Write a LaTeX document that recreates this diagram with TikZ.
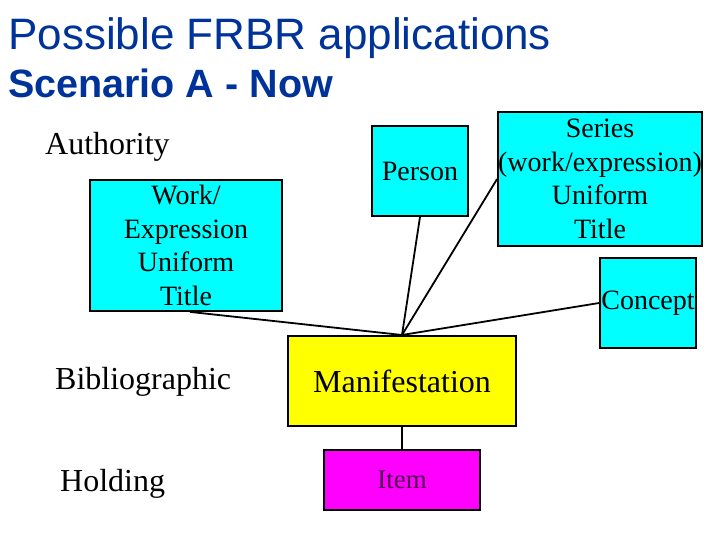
\documentclass[tikz,border=0pt]{standalone}
\usepackage{fontspec}
\setmainfont{Liberation Serif}
\newfontfamily\arialfont{Liberation Sans}
\definecolor{titleblue}{RGB}{0,51,153}
\definecolor{cyanfill}{RGB}{0,255,255}
\definecolor{yellowfill}{RGB}{255,255,0}
\definecolor{magentafill}{RGB}{255,0,255}
\definecolor{itemtext}{RGB}{80,0,80}
\tikzset{
  box/.style={draw=black, line width=1.8pt, inner sep=0pt, align=center},
  authbox/.style={box, fill=cyanfill, font=\fontsize{28}{33.6}\selectfont},
  biglabel/.style={inner sep=0pt, font=\fontsize{32}{38}\selectfont},
  link/.style={draw=black, line width=1.8pt},
}
\begin{document}
\begin{tikzpicture}[x=1pt,y=-1pt]
\useasboundingbox (0,0) rectangle (720,540);
% titles
\node[anchor=base west, inner sep=0pt, text=titleblue, font=\arialfont\fontsize{44}{50}\selectfont] (t1) at (8,50) {Possible FRBR applications};
\node[anchor=base west, inner sep=0pt, text=titleblue, font=\arialfont\bfseries\fontsize{39.5}{46}\selectfont] (t2) at (8,98) {Scenario A - Now};
% labels
\node[biglabel, anchor=base west] (auth) at (45,155) {Authority};
\node[biglabel, anchor=base west] (bib) at (55,389) {Bibliographic};
\node[biglabel, anchor=base west] (hold) at (60,491) {Holding};
% authority boxes
\node[authbox, minimum width=192, minimum height=131] (work) at (186,245.5) {Work/\\Expression\\Uniform\\Title};
\node[authbox, minimum width=96, minimum height=90] (person) at (420,171) {Person};
\node[authbox, minimum width=204, minimum height=134] (series) at (600,179) {Series\\(work/expression)\\Uniform\\Title};
\node[authbox, minimum width=96, minimum height=90] (concept) at (648,303) {Concept};
% manifestation and item
\node[box, fill=yellowfill, minimum width=228, minimum height=90, font=\fontsize{32}{38}\selectfont] (manif) at (402,381) {Manifestation};
\node[box, fill=magentafill, minimum width=156, minimum height=60, text=itemtext, font=\fontsize{27}{32}\selectfont] (item) at (402,480) {Item};
% connectors
\coordinate (hub) at (402,335);
\draw[link] ([xshift=4pt]work.south) -- (hub);
\draw[link] (person.south) -- (hub);
\draw[link] (series.west) -- (hub);
\draw[link] (concept.west) -- (hub);
\draw[link] (manif.south) -- (item.north);
\end{tikzpicture}
\end{document}
